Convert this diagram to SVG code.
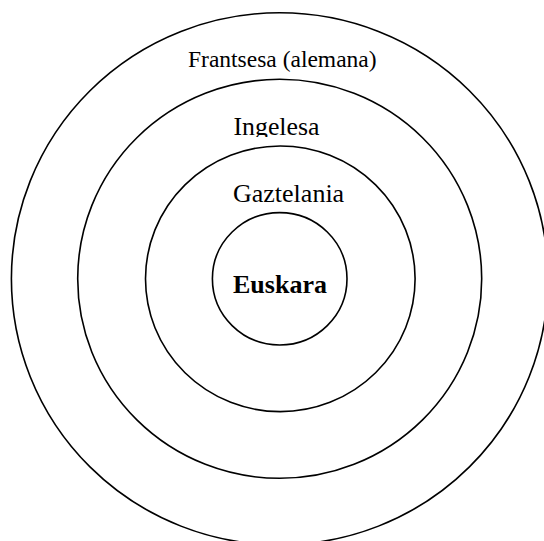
<svg xmlns="http://www.w3.org/2000/svg" width="544" height="541" viewBox="0 0 544 541">
  <style>
    .ring { fill: none; stroke: #000; stroke-width: 1.6; }
    .lbl { font-family: "Liberation Serif", "Times New Roman", serif; fill: #000; }
  </style>
  <defs>
    <clipPath id="clipIng">
      <rect x="0" y="100" width="544" height="37"/>
    </clipPath>
  </defs>
  <rect width="544" height="541" fill="#fff"/>
  <g id="frantsesa">
    <ellipse class="ring" cx="279.7" cy="278.8" rx="268.3" ry="266"/>
    <text class="lbl" x="188" y="67" font-size="23.5">Frantsesa (alemana)</text>
  </g>
  <g id="ingelesa">
    <ellipse class="ring" cx="279.7" cy="278.8" rx="202" ry="199.5"/>
    <text class="lbl" x="233.5" y="135" font-size="25.8" clip-path="url(#clipIng)">Ingelesa</text>
  </g>
  <g id="gaztelania">
    <ellipse class="ring" cx="280.3" cy="278.8" rx="134.8" ry="132.8"/>
    <text class="lbl" x="233" y="201.5" font-size="26">Gaztelania</text>
  </g>
  <g id="euskara">
    <ellipse class="ring" cx="279.7" cy="278.8" rx="67.3" ry="66.2"/>
    <text class="lbl" x="233" y="292.5" font-size="26" font-weight="bold">Euskara</text>
  </g>
  <g id="connectors"/>
</svg>
